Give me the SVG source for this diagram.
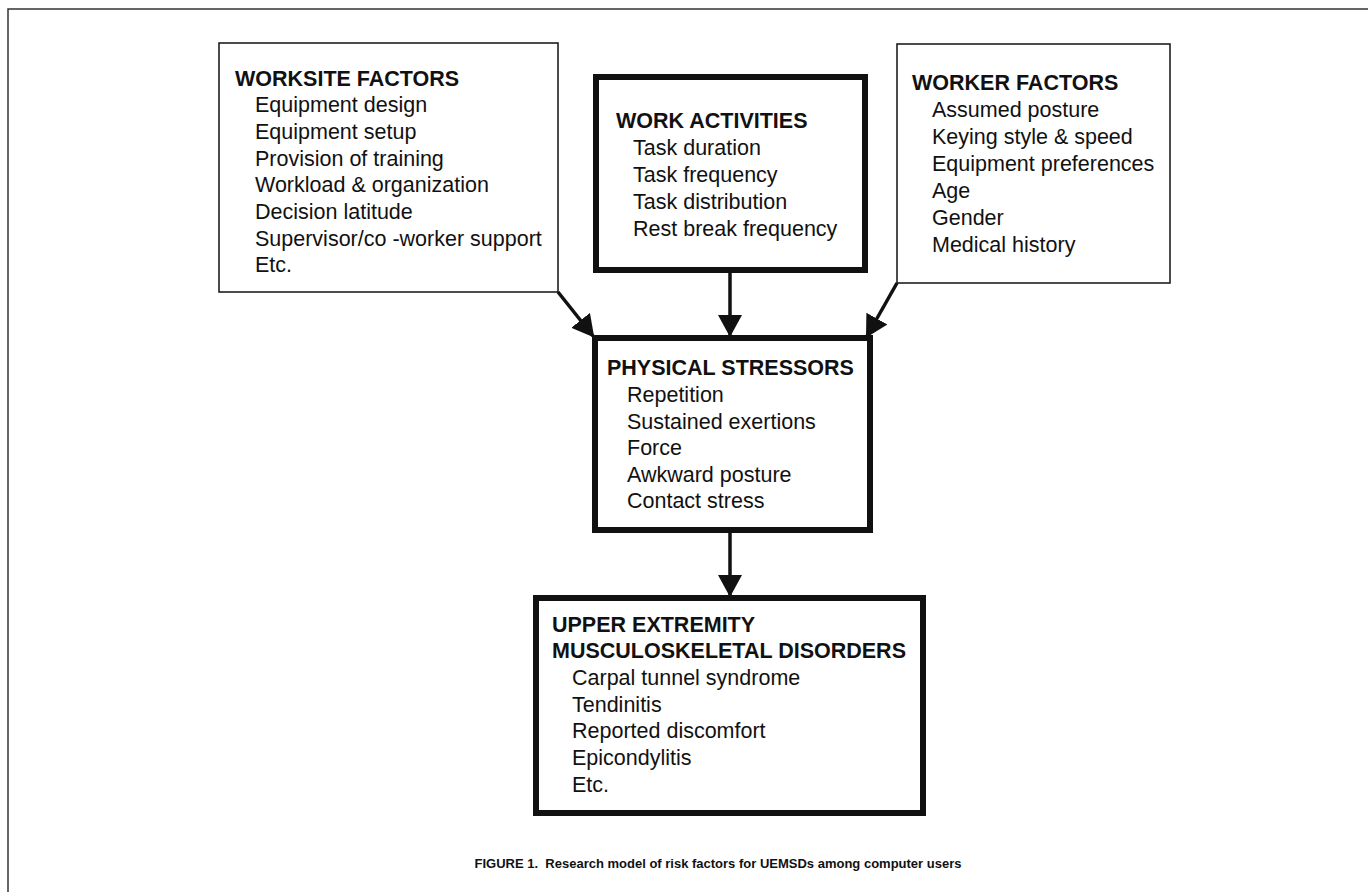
<svg xmlns="http://www.w3.org/2000/svg" width="1368" height="893" viewBox="0 0 1368 893">
<style>
text{font-family:"Liberation Sans",Arial,Helvetica,sans-serif;fill:#111}
.t{font-weight:bold;font-size:21.5px}
.i{font-size:21.5px}
.thin{fill:#fff;stroke:#111;stroke-width:1.5}
.thick{fill:#fff;stroke:#111;stroke-width:6}
.conn{stroke:#111;stroke-width:3.5;fill:none}
.cap{font-weight:bold;font-size:13px}
</style>
<defs>
<marker id="ah" markerUnits="userSpaceOnUse" markerWidth="26" markerHeight="26" refX="20" refY="12" orient="auto">
<path d="M0,0 L22,12 L0,24 z" fill="#111"/>
</marker>
</defs>
<rect width="1368" height="893" fill="#fff"/>
<path d="M8,892 L8,9 L1368,9" fill="none" stroke="#333" stroke-width="1.5"/>
<g id="connectors">
<line class="conn" x1="558" y1="292" x2="593" y2="336" marker-end="url(#ah)"/>
<line class="conn" x1="730" y1="273" x2="730" y2="335" marker-end="url(#ah)"/>
<line class="conn" x1="897" y1="283" x2="867" y2="336" marker-end="url(#ah)"/>
<line class="conn" x1="730" y1="533" x2="730" y2="595" marker-end="url(#ah)"/>
</g>
<g id="worksite">
<rect class="thin" x="219" y="43" width="339" height="249"/>
<text class="t" x="235" y="85.5">WORKSITE FACTORS</text>
<text class="i" x="255" y="112.2">Equipment design</text>
<text class="i" x="255" y="138.9">Equipment setup</text>
<text class="i" x="255" y="165.6">Provision of training</text>
<text class="i" x="255" y="192.3">Workload &amp; organization</text>
<text class="i" x="255" y="219">Decision latitude</text>
<text class="i" x="255" y="245.7">Supervisor/co -worker support</text>
<text class="i" x="255" y="272.4">Etc.</text>
</g>
<g id="work-activities">
<rect class="thick" x="596" y="77" width="269" height="193"/>
<text class="t" x="616" y="128">WORK ACTIVITIES</text>
<text class="i" x="633" y="155">Task duration</text>
<text class="i" x="633" y="182">Task frequency</text>
<text class="i" x="633" y="209">Task distribution</text>
<text class="i" x="633" y="236">Rest break frequency</text>
</g>
<g id="worker">
<rect class="thin" x="897" y="44" width="273" height="239"/>
<text class="t" x="912" y="90">WORKER FACTORS</text>
<text class="i" x="932" y="117">Assumed posture</text>
<text class="i" x="932" y="144">Keying style &amp; speed</text>
<text class="i" x="932" y="171">Equipment preferences</text>
<text class="i" x="932" y="198">Age</text>
<text class="i" x="932" y="225">Gender</text>
<text class="i" x="932" y="252">Medical history</text>
</g>
<g id="physical-stressors">
<rect class="thick" x="595" y="338" width="275" height="192"/>
<text class="t" x="607" y="375">PHYSICAL STRESSORS</text>
<text class="i" x="627" y="402">Repetition</text>
<text class="i" x="627" y="428.5">Sustained exertions</text>
<text class="i" x="627" y="455">Force</text>
<text class="i" x="627" y="482">Awkward posture</text>
<text class="i" x="627" y="508">Contact stress</text>
</g>
<g id="uemsd">
<rect class="thick" x="536" y="598" width="387" height="215"/>
<text class="t" x="552" y="632">UPPER EXTREMITY</text>
<text class="t" x="552" y="658">MUSCULOSKELETAL DISORDERS</text>
<text class="i" x="572" y="685">Carpal tunnel syndrome</text>
<text class="i" x="572" y="712">Tendinitis</text>
<text class="i" x="572" y="738">Reported discomfort</text>
<text class="i" x="572" y="765">Epicondylitis</text>
<text class="i" x="572" y="792">Etc.</text>
</g>
<text class="cap" x="718" y="868" text-anchor="middle" xml:space="preserve">FIGURE 1.  Research model of risk factors for UEMSDs among computer users</text>
</svg>
